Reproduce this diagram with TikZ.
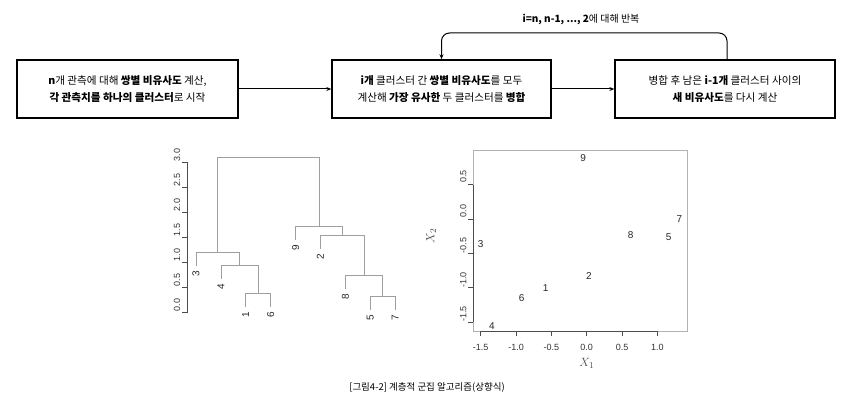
\documentclass[tikz,border=0pt]{standalone}
\usepackage{fontspec}
\setmainfont{Noto Sans CJK KR}
\newfontfamily\plotfont{Liberation Sans}
\usetikzlibrary{arrows.meta,positioning}
\begin{document}
\begin{tikzpicture}[x=1pt,y=-1pt,
	stepbox/.style={draw,line width=1.4pt,minimum height=58pt,align=center,font=\fontsize{10.6}{17}\selectfont,inner sep=0pt},
	flow/.style={-{Stealth[length=5pt,width=4pt]},line width=1pt},
	tree/.style={gray!75,line width=0.8pt},
	axisline/.style={black!70,line width=0.7pt},
	ticklab/.style={font=\plotfont\fontsize{9}{10}\selectfont,text=black!80,inner sep=1pt},
	ptlab/.style={font=\plotfont\fontsize{10}{11}\selectfont,text=black!85,inner sep=0pt}]
	\useasboundingbox (0,0) rectangle (851,414);
	% flow of the algorithm
	\node [stepbox,minimum width=221pt] (start) at (127.5,89) {\textbf{n}개 관측에 대해 \textbf{쌍별 비유사도} 계산,\\\textbf{각 관측치를 하나의 클러스터}로 시작};
	\node [stepbox,minimum width=219pt] (merge) at (441.5,89) {\textbf{i개} 클러스터 간 \textbf{쌍별 비유사도}를 모두\\계산해 \textbf{가장 유사한} 두 클러스터를 \textbf{병합}};
	\node [stepbox,minimum width=220pt] (update) at (725,89) {병합 후 남은 \textbf{i-1개} 클러스터 사이의\\\textbf{새 비유사도}를 다시 계산};
	\draw [flow] (start) -- (merge);
	\draw [flow] (merge) -- (update);
	\coordinate (loop) at (584,33);
	\draw [flow,rounded corners=8pt] ([xshift=2pt]update.north) |- (loop) -| (merge.north);
	\node [font=\fontsize{10}{11}\selectfont] (looplab) at (581,19) {\textbf{i=n, n-1, ..., 2}에 대해 반복};
	% dendrogram
	\begin{scope}[shift={(0,312)},y=50pt]
		\draw [axisline] (187.5,0) -- (187.5,3);
		\foreach \t in {0.0,0.5,1.0,1.5,2.0,2.5,3.0}
			\draw [axisline] (187.5,\t) -- (181.5,\t) node [ticklab,rotate=90,above=7pt] {\t};
		\draw [tree] (245.8,0.10) -- (245.8,0.38) -- (270.7,0.38) -- (270.7,0.10);
		\draw [tree] (220.9,0.66) -- (220.9,0.94) -- (258.25,0.94) -- (258.25,0.38);
		\draw [tree] (196,0.92) -- (196,1.2) -- (239.6,1.2) -- (239.6,0.94);
		\draw [tree] (370.3,0.04) -- (370.3,0.32) -- (395.2,0.32) -- (395.2,0.04);
		\draw [tree] (345.4,0.46) -- (345.4,0.74) -- (382.75,0.74) -- (382.75,0.32);
		\draw [tree] (320.5,1.26) -- (320.5,1.54) -- (364.1,1.54) -- (364.1,0.74);
		\draw [tree] (295.6,1.44) -- (295.6,1.72) -- (342.3,1.72) -- (342.3,1.54);
		\draw [tree] (217.8,1.2) -- (217.8,3.09) -- (319,3.09) -- (319,1.72);
		\foreach \x/\h/\l in {196/0.92/3,220.9/0.66/4,245.8/0.10/1,270.7/0.10/6,295.6/1.44/9,320.5/1.26/2,345.4/0.46/8,370.3/0.04/5,395.2/0.04/7}
			\node [ptlab,rotate=90,anchor=east] at (\x,\h-0.1) {\l};
	\end{scope}
	% scatter plot
	\begin{scope}[shift={(586.7,219)},x=70.7pt,y=68.8pt]
		\draw [gray!60,line width=0.8pt] (-1.608,-1.628) rectangle (1.419,1.003);
		\draw [axisline] (-1.608,-1.5) -- (-1.608,0.5);
		\draw [axisline] (-1.5,-1.628) -- (1.0,-1.628);
		\foreach \t in {-1.5,-1.0,-0.5,0.0,0.5}
			\draw [axisline] (-1.608,\t) -- (-1.68,\t) node [ticklab,rotate=90,above=8pt] {\t};
		\foreach \t in {-1.5,-1.0,-0.5,0.0,0.5,1.0}
			\draw [axisline] (\t,-1.628) -- (\t,-1.7) node [ticklab,below=7pt] {\t};
		\foreach \x/\y/\l in {-0.05/0.88/9,1.31/0.0/7,0.62/-0.23/8,1.16/-0.26/5,-1.50/-0.36/3,0.03/-0.83/2,-0.58/-1.0/1,-0.92/-1.15/6,-1.34/-1.56/4}
			\node [ptlab] at (\x,\y) {\l};
		\node [text=black!70,font=\fontsize{13}{14}\selectfont] (xlab) at (0,-2.1) {$X_1$};
		\node [text=black!70,rotate=90,font=\fontsize{13}{14}\selectfont] (ylab) at (-2.2,-0.25) {$X_2$};
	\end{scope}
	\node [font=\fontsize{9.5}{11}\selectfont] (caption) at (427,387) {[그림4-2] 계층적 군집 알고리즘(상향식)};
\end{tikzpicture}
\end{document}
